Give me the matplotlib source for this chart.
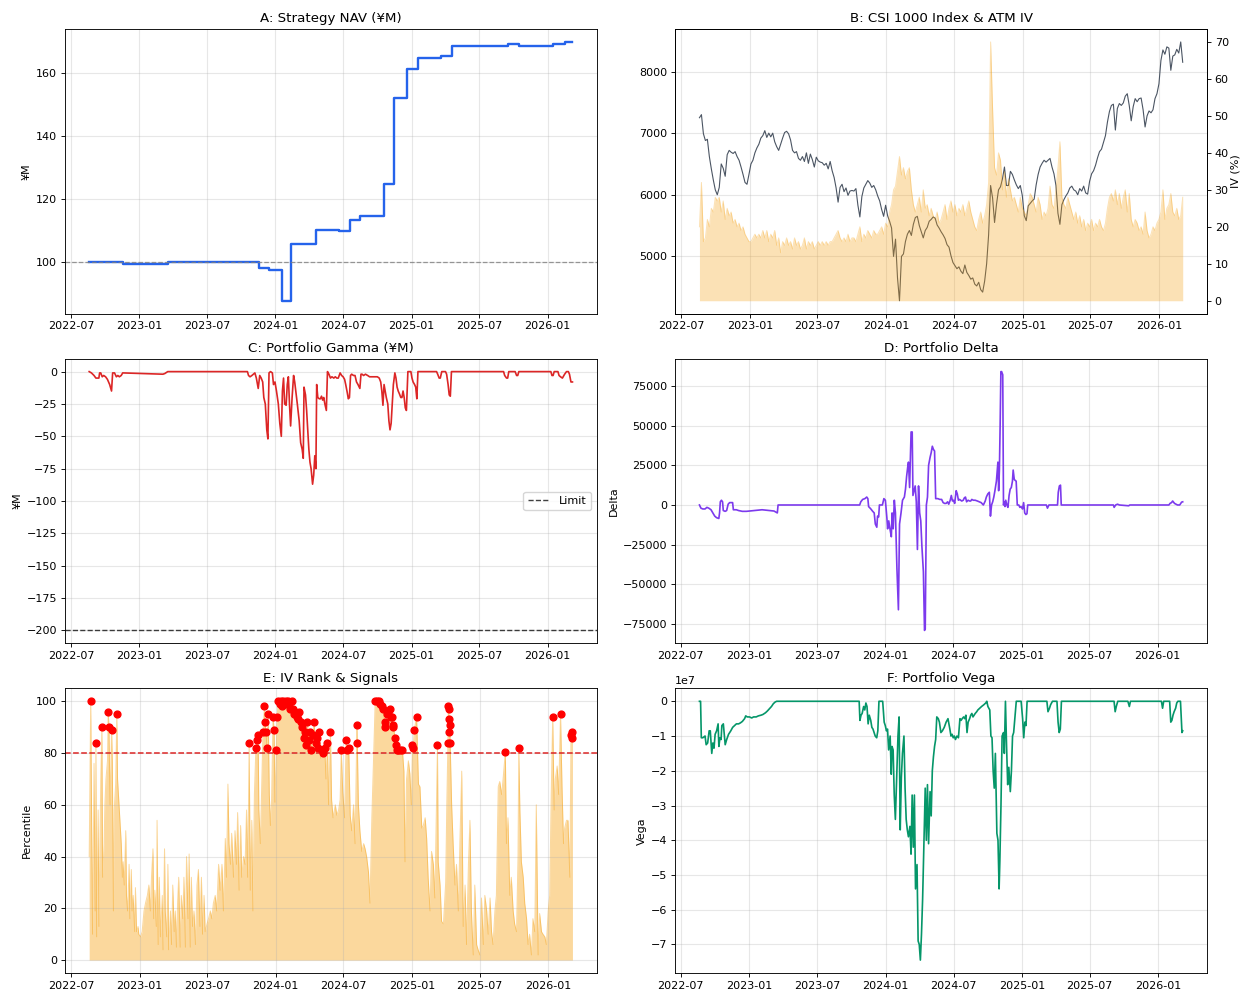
import matplotlib
matplotlib.use("Agg")
import matplotlib.pyplot as plt
import matplotlib.dates as mdates
import matplotlib.ticker as mticker
import numpy as np
import pandas as pd

plt.rcParams['font.family'] = ['DejaVu Sans']
plt.rcParams['font.size'] = 8
plt.rcParams['xtick.major.size'] = 2.8
plt.rcParams['ytick.major.size'] = 2.8
plt.rcParams['xtick.major.pad'] = 2.8
plt.rcParams['ytick.major.pad'] = 2.8
plt.rcParams['xtick.major.width'] = 0.64
plt.rcParams['ytick.major.width'] = 0.64
plt.rcParams['axes.linewidth'] = 0.64
plt.rcParams['axes.titlepad'] = 4.8
plt.rcParams['axes.labelpad'] = 3.2

BASE = pd.Timestamp('2022-07-01')  # day offsets below count from this date

# ---- A: Strategy NAV (step changes: day offset, NAV in ¥M)
nav_pts = [(49, 100.0), (114, 100.2), (139, 99.6), (260, 100.0), (504, 98.2), (532, 97.7),
           (566, 87.8), (591, 105.8), (659, 110.4), (720, 109.8), (750, 113.3), (777, 114.8),
           (812, 114.6), (841, 124.8), (867, 152.2), (902, 161.3), (932, 164.9), (994, 165.4),
           (1023, 168.7), (1175, 169.3), (1203, 168.8), (1294, 169.2), (1328, 170.0), (1347, 170.0)]
nav_base = 100

# ---- B: CSI 1000 index and ATM IV (evenly spaced samples between these dates)
idx_start, idx_end = '2022-08-19', '2026-03-05'
index_vals = [7250, 7300, 6990, 6880, 6900, 6620, 6420, 6240, 6080, 6000,
              6120, 6500, 6430, 6300, 6650, 6720, 6690, 6670, 6700, 6620,
              6560, 6450, 6330, 6200, 6170, 6330, 6500, 6560, 6680, 6760,
              6820, 6920, 6960, 7040, 6930, 7000, 6940, 7000, 6860, 6780,
              6720, 6820, 6920, 7010, 7030, 6990, 6890, 6720, 6680, 6700,
              6590, 6560, 6620, 6540, 6680, 6510, 6660, 6570, 6450, 6610,
              6550, 6530, 6520, 6480, 6510, 6420, 6540, 6390, 6280, 6110,
              5880, 6120, 6170, 6050, 6110, 5990, 6060, 6070, 6060, 6100,
              5830, 5640, 5970, 6110, 6170, 6230, 6190, 6120, 6150, 6080,
              5980, 5900, 5760, 5650, 5830, 5660, 5570, 5460, 5000, 5280,
              4650, 4280, 5000, 5040, 5240, 5360, 5420, 5340, 5520, 5630,
              5650, 5500, 5400, 5300, 5420, 5470, 5570, 5600, 5640, 5620,
              5510, 5460, 5400, 5350, 5290, 5190, 5150, 5010, 4900, 4850,
              4800, 4830, 4760, 4720, 4860, 4740, 4690, 4630, 4650, 4550,
              4520, 4580, 4460, 4420, 4600, 4880, 5350, 6150, 5950, 5550,
              5850, 6080, 6130, 6260, 6450, 6150, 6150, 6380, 6330, 6240,
              6160, 6100, 6150, 5990, 5660, 5580, 5820, 5860, 5900, 5930,
              6160, 6330, 6450, 6510, 6560, 6530, 6560, 6590, 6450, 6340,
              6150, 5700, 5520, 5840, 5920, 5980, 6030, 6110, 6140, 6080,
              6060, 6000, 6100, 6060, 6140, 6030, 6010, 6220, 6340, 6390,
              6480, 6600, 6700, 6740, 6850, 6960, 7180, 7350, 7450, 7470,
              7050, 7400, 7480, 7450, 7490, 7600, 7640, 7450, 7200, 7430,
              7560, 7510, 7560, 7570, 7380, 7100, 7280, 7360, 7330, 7380,
              7560, 7640, 7800, 8180, 8350, 8280, 8400, 8380, 8020, 8250,
              8270, 8360, 8300, 8480, 8150]
iv_vals = [20, 32, 16, 17, 22, 20, 25, 24, 28, 27,
           28, 24, 27, 22, 25, 23, 24, 21, 22, 20,
           21, 19, 20, 18, 17, 16, 16, 17, 18, 17,
           18, 17, 19, 17, 19, 16, 18, 17, 19, 15,
           17, 13, 16, 15, 17, 15, 16, 14, 17, 15,
           16, 14, 15, 17, 14, 16, 15, 16, 14, 15,
           16, 15, 16, 15, 16, 15, 16, 16, 17, 18,
           19, 17, 16, 17, 16, 18, 16, 17, 17, 16,
           18, 20, 16, 18, 17, 19, 18, 17, 19, 18,
           18, 19, 20, 18, 21, 20, 24, 26, 30, 31,
           35, 39, 34, 36, 33, 35, 36, 30, 26, 24,
           26, 28, 24, 30, 25, 26, 23, 25, 23, 22,
           24, 21, 22, 24, 26, 22, 25, 27, 24, 26,
           23, 25, 24, 26, 23, 25, 27, 24, 22, 20,
           19, 22, 24, 21, 23, 26, 32, 70, 52, 36,
           34, 40, 38, 30, 35, 28, 33, 30, 27, 28,
           26, 24, 28, 25, 24, 23, 26, 29, 28, 26,
           24, 28, 26, 22, 24, 23, 25, 31, 26, 25,
           30, 36, 43, 28, 26, 25, 28, 26, 24, 22,
           24, 21, 23, 20, 22, 19, 21, 20, 22, 19,
           21, 20, 22, 20, 19, 21, 25, 28, 29, 27,
           30, 26, 29, 25, 28, 30, 24, 29, 22, 20,
           22, 21, 19, 20, 18, 24, 19, 17, 18, 20,
           19, 21, 22, 24, 30, 22, 25, 26, 29, 24,
           23, 25, 22, 23, 28]

# ---- C: Portfolio gamma (day offset, ¥M)
gamma_pts = [(49, 0), (55, -1), (62, -3), (67, -5), (75, -5), (77, -1), (80, -1), (84, -4), (88, -3),
             (93, -4), (98, -6), (104, -10), (109, -15), (112, -1), (117, -1), (122, -4), (126, -3),
             (130, -4), (135, -3), (139, -1), (247, -2), (252, -1.5), (260, 0), (474, 0), (477, -3),
             (481, -4), (486, -3), (490, -2), (494, -1), (498, -5), (503, -13), (507, -3), (511, -5),
             (515, -8), (518, -20), (522, -25), (526, -45), (529, -52), (532, -1), (536, 0), (541, -1),
             (544, -10), (548, -8), (552, -15), (557, -25), (561, -40), (565, -50), (568, -15),
             (571, -5), (574, -25), (578, -26), (581, -10), (584, -4), (587, -25), (590, -42),
             (594, -20), (598, -3), (601, -8), (604, -15), (608, -25), (613, -38), (617, -55),
             (621, -60), (624, -67), (626, -12), (630, -18), (633, -30), (636, -45), (639, -60),
             (642, -70), (645, -75), (649, -87), (652, -80), (655, -65), (658, -75), (660, -10),
             (663, -20), (667, -21), (670, -21), (673, -19), (676, -22), (679, -20), (682, -25),
             (686, -30), (689, 0), (693, -2), (697, -5), (701, -4), (706, -5), (710, -4), (714, -5),
             (718, -5), (723, -1), (727, -3), (731, -4), (735, -6), (738, -10), (742, -16),
             (745, -21), (748, -20), (751, -3), (754, -2), (759, -3), (763, -3), (767, -8),
             (771, -10), (776, -13), (779, -2), (782, -2), (786, -3), (791, -2), (797, -3),
             (802, -4), (813, -4), (823, -4), (828, -5), (832, -8), (835, -15), (838, -26),
             (841, -10), (844, -15), (847, -20), (851, -25), (854, -38), (857, -45), (860, -40),
             (863, -25), (866, -10), (870, -1), (873, -5), (876, -12), (879, -15), (882, -17),
             (886, -20), (889, -20), (892, -15), (895, -20), (898, -28), (901, -30), (905, 0),
             (913, 0), (916, -5), (919, -8), (923, -10), (926, -12), (929, -21), (932, 0),
             (982, 0), (985, -2), (989, -5), (992, -5), (996, 0), (1006, 0), (1009, -2),
             (1013, -10), (1016, -18), (1019, -19), (1022, 0), (1162, 0), (1165, -3), (1170, -5),
             (1173, -5), (1176, 0), (1193, 0), (1197, -3), (1200, -3), (1203, 0), (1289, 0),
             (1292, -3), (1295, -3), (1298, 0), (1308, 0), (1311, -3), (1315, -4), (1320, -5),
             (1326, -2), (1331, 0), (1336, 0), (1339, -2), (1343, -8), (1347, -8)]
gamma_limit = -200

# ---- D: Portfolio delta (day offset, delta)
delta_pts = [(50, 0), (54, -2000), (59, -2500), (65, -2500), (70, -1500), (75, -2000), (81, -3000),
             (86, -5000), (91, -7000), (96, -8000), (102, -8500), (104, -5000), (106, 2000),
             (109, 3000), (112, 2000), (114, -3500), (119, -4000), (123, -3500), (127, 500),
             (131, 1500), (139, 1500), (141, -3000), (149, -3000), (155, -3500), (165, -4000),
             (176, -4000), (197, -3500), (218, -3000), (239, -3500), (250, -3800), (255, -4500),
             (259, -5000), (261, 0), (480, 0), (483, 2000), (488, 3500), (494, 4000), (499, 5000),
             (502, 4000), (504, -1000), (510, -2500), (515, -4000), (519, -5000), (522, -12000),
             (526, -14000), (528, -7000), (531, -7500), (533, 0), (541, 0), (545, 4000),
             (549, 3000), (553, -8000), (555, -15000), (558, -10000), (562, -16000), (565, -20000),
             (567, -5000), (570, -15000), (573, 3000), (576, -5000), (580, -40000), (584, -66000),
             (587, -12000), (591, -5000), (595, 3000), (600, 5000), (603, 10000), (606, 18000),
             (609, 24000), (611, 27000), (614, 11000), (616, 28000), (618, 46000), (621, 46000),
             (623, 6000), (626, 9000), (629, 12000), (632, 2000), (635, -28000), (638, 12000),
             (641, -5000), (644, -10000), (647, -26000), (651, -42000), (654, -79000),
             (656, -78000), (659, 0), (662, 5000), (665, 25000), (669, 30000), (672, 33000),
             (675, 37000), (678, 35000), (681, 34000), (684, 4000), (690, 4000), (695, 3500),
             (700, 3500), (704, 1500), (708, 1000), (712, 1000), (716, 2000), (719, 500),
             (723, 3000), (726, 6000), (729, 2500), (732, 3000), (735, 1000), (739, 9000),
             (742, 7000), (745, 3000), (748, 3500), (751, 3000), (754, 2500), (758, 3000),
             (761, 4500), (764, 5000), (767, 2000), (771, 3000), (775, 2500), (778, 2500),
             (781, 3500), (785, 3000), (790, 3000), (796, 2500), (801, 2000), (806, 1500),
             (812, 0), (817, 2500), (820, 5000), (824, 7000), (828, 8000), (831, -7000),
             (834, 0), (837, 2000), (840, 5000), (843, 9000), (847, 15000), (849, 21000),
             (851, 27000), (853, 9000), (855, 22000), (857, 50000), (859, 84000), (861, 84000),
             (864, 82000), (866, 0), (868, 2000), (870, -1000), (872, 3000), (875, 0),
             (878, -1500), (881, 6000), (884, 10000), (887, 11000), (890, 15000), (892, 22000),
             (895, 16000), (900, 15000), (903, 0), (907, 0), (910, -1500), (913, -1000),
             (917, -2500), (920, 1500), (923, -5000), (926, -6000), (929, -5500), (931, 0),
             (981, 0), (984, -2000), (988, 0), (1011, 0), (1013, 8000), (1016, 12000),
             (1019, 12500), (1021, 0), (1161, 0), (1163, -1500), (1167, 0), (1172, 500),
             (1177, 0), (1202, -500), (1205, 0), (1310, 0), (1313, 1000), (1317, 1500),
             (1320, 2500), (1325, 1000), (1329, 500), (1333, 0), (1339, 0), (1344, 1800),
             (1347, 2000)]

# ---- E: IV rank percentile (day offset, percentile)
rank_pts = [(49, 40), (53, 100), (58, 10), (62, 76), (65, 19), (67, 84), (69, 9), (73, 58), (75, 13),
            (80, 70), (83, 90), (85, 32), (89, 45), (91, 60), (94, 70), (98, 77), (100, 96), (102, 90),
            (105, 60), (109, 89), (111, 77), (114, 19), (116, 58), (120, 68), (123, 95), (125, 70),
            (129, 60), (131, 55), (135, 45), (138, 32), (140, 38), (143, 29), (147, 50), (149, 25),
            (152, 19), (156, 37), (158, 16), (162, 35), (164, 19), (167, 25), (171, 11), (173, 28),
            (176, 11), (180, 13), (182, 10), (187, 9), (191, 11), (196, 19), (200, 22), (205, 25),
            (209, 29), (213, 19), (216, 32), (220, 43), (222, 16), (225, 27), (229, 13), (231, 54),
            (234, 6), (237, 32), (240, 9), (245, 25), (247, 4), (251, 43), (253, 19), (257, 9),
            (260, 37), (262, 4), (267, 19), (270, 6), (273, 29), (277, 11), (280, 19), (283, 5),
            (286, 22), (289, 32), (293, 5), (296, 25), (300, 16), (303, 32), (307, 5), (310, 40),
            (314, 16), (317, 41), (320, 5), (323, 32), (326, 13), (330, 19), (334, 6), (338, 29),
            (342, 35), (346, 13), (350, 32), (353, 10), (357, 25), (360, 11), (365, 14), (369, 16),
            (374, 19), (378, 16), (382, 22), (387, 25), (391, 19), (396, 37), (400, 27), (405, 37),
            (409, 19), (414, 47), (417, 32), (421, 68), (424, 45), (428, 37), (431, 49), (436, 32),
            (440, 50), (444, 37), (447, 57), (451, 27), (455, 52), (458, 32), (463, 40), (467, 37),
            (471, 58), (474, 32), (478, 84), (481, 27), (485, 54), (488, 19), (492, 64), (496, 82),
            (499, 85), (502, 87), (504, 58), (508, 45), (512, 70), (515, 88), (519, 98), (520, 92),
            (523, 88), (526, 82), (529, 95), (532, 64), (535, 52), (538, 61), (542, 94), (545, 89),
            (547, 61), (551, 81), (553, 94), (556, 100), (560, 99), (563, 100), (567, 98),
            (570, 100), (574, 99), (577, 100), (581, 100), (585, 99), (588, 97), (592, 100),
            (595, 97), (599, 95), (602, 96), (606, 94), (610, 93), (613, 96), (617, 92), (620, 90),
            (624, 86), (627, 88), (631, 83), (634, 92), (638, 85), (642, 88), (645, 81), (649, 87),
            (652, 92), (656, 84), (659, 86), (663, 82), (666, 88), (670, 78), (674, 81), (677, 80),
            (681, 82), (684, 70), (688, 84), (691, 60), (696, 88), (699, 62), (703, 55), (709, 60),
            (713, 56), (718, 58), (722, 62), (725, 81), (729, 65), (734, 55), (738, 85), (741, 81),
            (745, 82), (749, 56), (753, 50), (758, 60), (762, 45), (767, 91), (768, 84), (771, 60),
            (775, 50), (780, 42), (785, 45), (789, 43), (793, 40), (798, 34), (802, 22), (807, 55),
            (811, 75), (816, 100), (820, 100), (825, 100), (829, 99), (834, 98), (838, 97),
            (841, 92), (842, 90), (847, 95), (851, 96), (856, 97), (859, 94), (860, 94), (863, 91),
            (865, 90), (869, 86), (872, 83), (874, 81), (878, 81), (883, 81), (889, 81), (893, 73),
            (896, 38), (900, 70), (905, 77), (909, 72), (913, 60), (916, 83), (918, 82), (921, 89),
            (927, 94), (932, 68), (936, 67), (941, 51), (945, 52), (950, 55), (954, 47), (958, 32),
            (963, 19), (967, 42), (972, 37), (976, 24), (983, 83), (985, 38), (990, 29), (994, 15),
            (999, 14), (1005, 30), (1008, 60), (1011, 84), (1012, 98), (1013, 97), (1014, 93),
            (1015, 88), (1016, 91), (1017, 84), (1021, 60), (1025, 45), (1030, 29), (1034, 37),
            (1039, 19), (1043, 45), (1048, 73), (1052, 13), (1057, 29), (1061, 6), (1066, 37),
            (1070, 54), (1074, 19), (1079, 2), (1083, 29), (1088, 6), (1092, 4), (1097, 2),
            (1101, 24), (1106, 6), (1110, 25), (1115, 19), (1119, 10), (1124, 24), (1128, 11),
            (1132, 6), (1137, 19), (1141, 25), (1146, 67), (1150, 69), (1155, 64), (1159, 70),
            (1165, 80.5), (1168, 45), (1172, 55), (1177, 25), (1181, 32), (1186, 19), (1190, 14),
            (1195, 11), (1199, 40), (1201, 82), (1204, 58), (1208, 38), (1213, 32), (1217, 22),
            (1222, 16), (1226, 6), (1230, 10), (1235, 2), (1239, 16), (1244, 11), (1248, 60),
            (1253, 2), (1257, 18), (1262, 11), (1266, 10), (1271, 9), (1275, 6), (1280, 19),
            (1284, 25), (1288, 64), (1292, 94), (1296, 58), (1299, 70), (1304, 75), (1308, 64),
            (1313, 95), (1317, 67), (1321, 45), (1324, 51), (1329, 54), (1333, 54), (1338, 32),
            (1341, 87), (1343, 88), (1345, 86)]
signal_threshold = 80

# ---- F: Portfolio vega (day offset, vega in units of 1e7)
vega_pts = [(50, 0), (53, 0), (55, -1.05), (59, -1.05), (65, -1.0), (68, -1.25), (72, -1.2), (76, -0.85),
            (79, -0.85), (83, -1.5), (86, -1.2), (89, -1.35), (92, -0.95), (96, -0.85), (100, -0.65),
            (102, -1.3), (105, -1.05), (108, -1.1), (110, -0.7), (114, -0.65), (119, -1.25),
            (123, -1.1), (128, -0.95), (134, -0.85), (139, -0.75), (144, -0.7), (149, -0.65),
            (155, -0.65), (160, -0.62), (165, -0.58), (171, -0.5), (174, -0.42), (178, -0.45),
            (184, -0.45), (190, -0.48), (195, -0.45), (202, -0.45), (208, -0.42), (215, -0.40),
            (220, -0.38), (227, -0.33), (232, -0.28), (237, -0.22), (243, -0.15), (248, -0.07),
            (253, -0.02), (257, 0), (478, 0), (480, -0.55), (483, -0.4), (486, -0.35), (490, -0.15),
            (493, -0.25), (496, -0.05), (499, -0.15), (502, -0.65), (505, -0.4), (509, -0.55),
            (512, -0.75), (515, -0.8), (518, -0.9), (521, -1.0), (525, -1.05), (528, -0.85),
            (531, 0), (541, 0), (545, -0.6), (548, -0.7), (551, -0.85), (554, -0.8), (557, -1.4),
            (561, -1.0), (564, -2.1), (566, -1.3), (569, -1.4), (572, -2.7), (575, -3.4),
            (579, -2.0), (582, -1.0), (585, -0.45), (588, -3.7), (591, -2.2), (594, -1.5),
            (598, -1.0), (601, -2.5), (604, -3.4), (607, -3.7), (610, -3.9), (614, -3.6),
            (617, -4.4), (620, -2.7), (623, -4.2), (626, -2.7), (629, -5.4), (633, -4.7),
            (636, -6.9), (639, -7.0), (642, -7.45), (645, -6.7), (648, -5.7), (652, -3.8),
            (655, -2.5), (658, -4.0), (661, -2.4), (664, -4.1), (668, -2.6), (671, -3.3),
            (674, -2.0), (677, -1.6), (680, -1.3), (683, -1.1), (686, -0.45), (690, -0.5),
            (693, -0.6), (697, -0.9), (701, -0.85), (706, -0.75), (711, -0.6), (716, -0.5),
            (721, -0.8), (724, -1.0), (727, -0.95), (730, -1.05), (733, -1.0), (736, -1.1),
            (740, -1.0), (744, -1.05), (748, -0.5), (751, -0.55), (754, -0.5), (758, -0.45),
            (761, -0.5), (764, -0.4), (767, -0.9), (770, -0.6), (774, -0.5), (777, -0.4),
            (780, -0.35), (783, -0.45), (786, -0.4), (789, -0.35), (793, -0.3), (796, -0.25),
            (801, -0.2), (806, -0.15), (812, -0.1), (817, -0.05), (820, 0), (823, -0.15),
            (828, -0.25), (831, -1.0), (834, -1.05), (837, -2.0), (840, -2.5), (843, -1.5),
            (847, -3.8), (850, -4.0), (853, -5.4), (855, -4.6), (858, -3.0), (861, -1.0),
            (865, -0.9), (867, -1.5), (870, 0), (873, -1.3), (876, -2.4), (879, -1.9), (883, -2.6),
            (886, -2.0), (889, -1.0), (892, -0.9), (895, -0.5), (899, 0), (912, 0), (916, -0.5),
            (919, -1.05), (922, -0.6), (925, -0.7), (928, 0), (981, 0), (984, -0.3), (988, -0.2),
            (991, -0.1), (996, 0), (1008, 0), (1011, -0.6), (1014, -0.9), (1017, -0.8), (1020, 0),
            (1161, 0), (1164, -0.3), (1167, -0.15), (1171, 0), (1198, 0), (1202, -0.15), (1205, 0),
            (1288, 0), (1291, -0.2), (1294, 0), (1310, 0), (1313, -0.6), (1316, -0.55),
            (1319, -0.4), (1322, -0.3), (1326, -0.2), (1329, -0.05), (1332, 0), (1339, 0),
            (1343, -0.9), (1345, -0.85)]


def to_series(pts):
    d, v = zip(*pts)
    return BASE + pd.to_timedelta(list(d), unit='D'), np.array(v, dtype=float)


fig, axes = plt.subplots(3, 2, figsize=(12.41, 9.93), dpi=100)
fig.subplots_adjust(left=0.0524, right=0.9725, top=0.9708, bottom=0.0201, wspace=0.148, hspace=0.158)
axA, axB = axes[0]
axC, axD = axes[1]
axE, axF = axes[2]

ORANGE = '#f59e0b'

# A
t, v = to_series(nav_pts)
axA.plot(t, v, color='#2563eb', lw=1.7, drawstyle='steps-post')
axA.axhline(nav_base, color='gray', ls='--', lw=0.9, alpha=0.8)
axA.set_title('A: Strategy NAV (¥M)')
axA.set_ylabel('¥M')

# B
tb = pd.date_range(idx_start, idx_end, periods=len(index_vals))
axB.plot(tb, index_vals, color='#4b5563', lw=0.8)
axB2 = axB.twinx()
ti = pd.date_range(idx_start, idx_end, periods=len(iv_vals))
axB2.fill_between(ti, iv_vals, color=ORANGE, alpha=0.3, lw=0)
axB2.plot(ti, iv_vals, color=ORANGE, alpha=0.3, lw=0.7)
axB2.set_ylabel('IV (%)', labelpad=1.5)
axB.set_title('B: CSI 1000 Index & ATM IV')

# C
t, v = to_series(gamma_pts)
axC.plot(t, v, color='#dc2626', lw=1.2)
axC.axhline(gamma_limit, color='black', ls='--', lw=1.0, alpha=0.75, label='Limit')
axC.legend(loc='center right')
axC.set_title('C: Portfolio Gamma (¥M)')
axC.set_ylabel('¥M')

# D
t, v = to_series(delta_pts)
axD.plot(t, v, color='#7c3aed', lw=1.2)
axD.yaxis.set_major_locator(mticker.MultipleLocator(25000))
axD.set_title('D: Portfolio Delta')
axD.set_ylabel('Delta')

# E
t, v = to_series(rank_pts)
axE.fill_between(t, v, color=ORANGE, alpha=0.4, lw=0)
axE.plot(t, v, color=ORANGE, alpha=0.4, lw=0.7)
sig = v >= signal_threshold
axE.scatter(t[sig], v[sig], color='red', s=24, zorder=5)
axE.axhline(signal_threshold, color='#dc2626', ls='--', lw=1.1)
axE.set_title('E: IV Rank & Signals')
axE.set_ylabel('Percentile')

# F
t, v = to_series(vega_pts)
axF.plot(t, v * 1e7, color='#059669', lw=1.2)
axF.set_title('F: Portfolio Vega')
axF.set_ylabel('Vega')

for ax in axes.flat:
    ax.grid(True, alpha=0.3)
    ax.xaxis.set_major_locator(mdates.MonthLocator(bymonth=[1, 7]))
    ax.xaxis.set_major_formatter(mdates.DateFormatter('%Y-%m'))

fig.savefig('out.png', dpi=100)
